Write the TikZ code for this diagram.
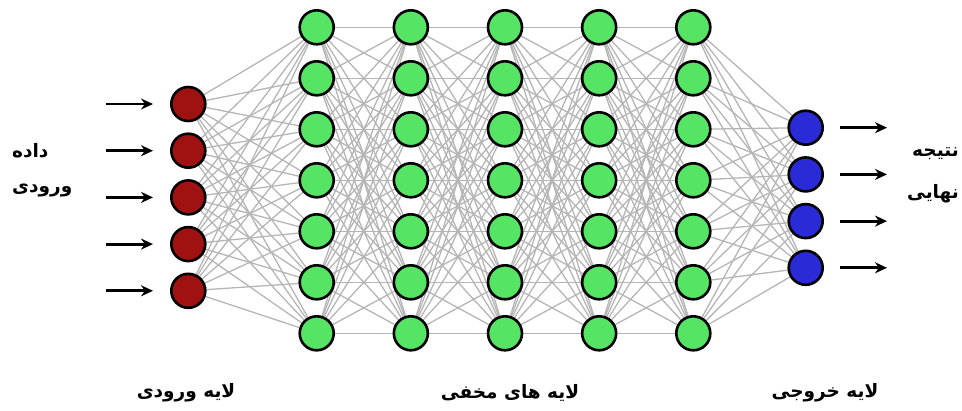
\documentclass[tikz,border=0pt]{standalone}
\usepackage{fontspec}
\TeXXeTstate=1
\newfontfamily\arabicfont[Script=Arabic]{DejaVu Sans}
\usetikzlibrary{backgrounds,arrows.meta}
\definecolor{inred}{HTML}{A01212}
\definecolor{hidgreen}{HTML}{55E464}
\definecolor{outblue}{HTML}{2A2AD6}
\definecolor{edgegray}{HTML}{B5B5B5}
\tikzset{
  neuron/.style={circle, draw=black, line width=2.6pt, minimum size=34pt, inner sep=0pt},
  inneuron/.style={neuron, fill=inred},
  hidneuron/.style={neuron, fill=hidgreen},
  outneuron/.style={neuron, fill=outblue},
  link/.style={draw=edgegray, line width=1.3pt},
  io/.style={-{Stealth[length=12pt,width=11pt]}, line width=2.8pt, black},
  lbl/.style={font=\arabicfont\bfseries\fontsize{18.5}{22}\selectfont, inner sep=0pt}
}
\begin{document}
\begin{tikzpicture}[x=1pt,y=-1pt]
\useasboundingbox (0,0) rectangle (962,410);
% input layer
\foreach \i in {1,...,5} {
  \node[inneuron] (I\i) at (188.3, {104+46.7*(\i-1)}) {};
  \coordinate (IA\i) at (106, {104+46.7*(\i-1)});
  \draw[io] (IA\i) -- ++(47,0);
}
% hidden layers
\foreach \c in {1,...,5} {
  \foreach \r in {1,...,7} {
    \node[hidneuron] (H\c-\r) at ({316.7+94.15*(\c-1)}, {27.3+51*(\r-1)}) {};
  }
}
% output layer
\foreach \i in {1,...,4} {
  \node[outneuron] (O\i) at (805.7, {127.7+46.7*(\i-1)}) {};
  \coordinate (OA\i) at (840, {127.7+46.7*(\i-1)});
  \draw[io] (OA\i) -- ++(47,0);
}
% connections
\begin{scope}[on background layer]
  \foreach \i in {1,...,5} \foreach \r in {1,...,7} \draw[link] (I\i) -- (H1-\r);
  \foreach \c/\n in {1/2,2/3,3/4,4/5} \foreach \r in {1,...,7} \foreach \s in {1,...,7}
    \draw[link] (H\c-\r) -- (H\n-\s);
  \foreach \r in {1,...,7} \foreach \o in {1,...,4} \draw[link] (H5-\r) -- (O\o);
\end{scope}
% labels
\node[lbl, anchor=west] (t1) at (12,151) {\beginR داده\endR};
\node[lbl, anchor=west] (t2) at (12,190) {\beginR ورودی\endR};
\node[lbl, anchor=east] (t3) at (959,154) {\beginR نتیجه\endR};
\node[lbl, anchor=east] (t4) at (959,194) {\beginR نهایی\endR};
\node[lbl] (b1) at (186,393) {\beginR لایه ورودی\endR};
\node[lbl] (b2) at (510,393) {\beginR لایه های مخفی\endR};
\node[lbl] (b3) at (825,393) {\beginR لایه خروجی\endR};
\end{tikzpicture}
\end{document}
